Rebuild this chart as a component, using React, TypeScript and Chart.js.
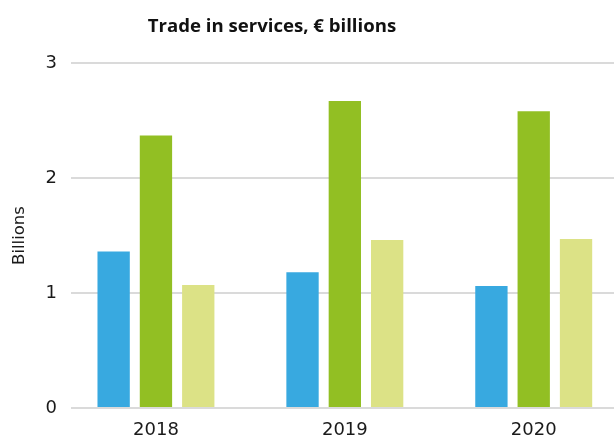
import React, { useEffect, useRef } from "react";
import { Chart, registerables } from "chart.js";

Chart.register(...registerables);

const categories = ["2018", "2019", "2020"];
const seriesA = [1.36, 1.18, 1.06];
const seriesB = [2.37, 2.67, 2.58];
const seriesC = [1.07, 1.46, 1.47];
const yTicks = [0, 1, 2, 3];

const titleText = "Trade in services, € billions";
const FONT = "'DejaVu Sans', sans-serif";
const TFONT = "'Open Sans', sans-serif";

const titlePlugin = {
  id: "customTitle",
  afterDraw(chart: any) {
    const ctx = chart.ctx;
    ctx.save();
    ctx.font = `bold 18.6px ${TFONT}`;
    ctx.fillStyle = "#111111";
    ctx.textAlign = "center";
    ctx.textBaseline = "alphabetic";
    ctx.fillText(titleText, chart.chartArea.left + 201, 32);
    ctx.restore();
  },
};

export default function App() {
  const ref = useRef<HTMLCanvasElement | null>(null);

  useEffect(() => {
    if (!ref.current) return;
    const toPts = (arr: number[]) => arr.map((v, i) => ({ x: i, y: v }));
    const chart = new Chart(ref.current, {
      type: "bar",
      data: {
        datasets: [
          { label: "A", data: toPts(seriesA), backgroundColor: "#38a9e0" },
          { label: "B", data: toPts(seriesB), backgroundColor: "#92bf23" },
          { label: "C", data: toPts(seriesC), backgroundColor: "#dce286" },
        ],
      },
      options: {
        animation: false,
        responsive: true,
        maintainAspectRatio: false,
        layout: { padding: { top: 63, right: 0, bottom: -14, left: 0 } },
        datasets: { bar: { categoryPercentage: 0.672, barPercentage: 0.764 } },
        plugins: {
          legend: { display: false },
          title: { display: false },
          tooltip: { enabled: false },
        },
        scales: {
          x: {
            type: "linear",
            min: -0.45,
            max: 2.425,
            offset: false,
            grid: { display: false, drawTicks: false },
            border: { display: false },
            afterBuildTicks: (scale: any) => {
              scale.ticks = categories.map((_, i) => ({ value: i }));
            },
            ticks: {
              padding: 13,
              color: "#1a1a1a",
              font: { family: FONT, size: 18, lineHeight: 1 },
              maxRotation: 0,
              callback: (v: any) => categories[Number(v)] ?? "",
            },
          },
          y: {
            min: 0,
            max: 3,
            afterBuildTicks: (scale: any) => {
              scale.ticks = yTicks.map((v) => ({ value: v }));
            },
            grid: { color: "#dadada", lineWidth: 2, drawTicks: false },
            border: { display: false },
            ticks: {
              padding: 14,
              color: "#1a1a1a",
              font: { family: FONT, size: 18 },
            },
            title: {
              display: true,
              text: "Billions",
              color: "#1a1a1a",
              font: { family: FONT, size: 16.5, lineHeight: 1.2 },
              padding: { top: 10, bottom: 1.7 },
            },
          },
        },
      },
      plugins: [titlePlugin],
    });
    return () => chart.destroy();
  }, []);

  return (
    <div style={{ position: "absolute", left: 0, top: 0, width: 614, height: 438, background: "#ffffff" }}>
      <canvas ref={ref} />
    </div>
  );
}
